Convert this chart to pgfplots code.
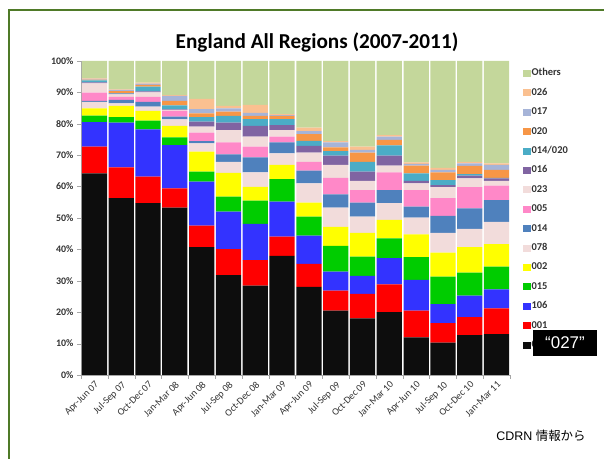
\documentclass[border=0pt]{standalone}
\usepackage{fontspec}
\setmainfont{Carlito}
\newfontfamily\arialf{Liberation Sans}
\newfontfamily\cjk{Noto Sans CJK JP}
\usepackage{pgfplots}
\usepackage{pgfplotstable}
\pgfplotsset{compat=1.18}

\definecolor{cOth}{HTML}{C4D79B}
\definecolor{cA026}{HTML}{FAC090}
\definecolor{cA017}{HTML}{A6B4D8}
\definecolor{cA020}{HTML}{F79646}
\definecolor{cA014b}{HTML}{4BACC6}
\definecolor{cA016}{HTML}{8064A2}
\definecolor{cA023}{HTML}{F2DCDB}
\definecolor{cA005}{HTML}{FF88C8}
\definecolor{cA014}{HTML}{4F81BD}
\definecolor{cA078}{HTML}{F2DCDB}
\definecolor{cA002}{HTML}{FFFF00}
\definecolor{cA015}{HTML}{00CC00}
\definecolor{cA106}{HTML}{3333FF}
\definecolor{cA001}{HTML}{FF0000}
\definecolor{cA027}{HTML}{0D0D0D}
\definecolor{frame}{HTML}{4F7A28}

% share of each ribotype per quarter (%)
\pgfplotstableread{
x a027 a001 a106 a015 a002 a078 a014 a005 a023 a016 a014b a020 a017 a026 oth
0  64.2 8.5 7.8  2.1 2.3 2.1 0.3 2.6 3.0 0.3 0.6 0.3 0.2 0.2 5.5
1  56.3 9.8 14.3 1.7 3.6 0.8 1.1 1.0 0.8 0.2 0.2 0.6 0.4 0.2 9.0
2  54.7 8.5 15.0 2.8 3.1 1.4 1.5 1.6 1.4 0.3 1.5 0.6 0.4 0.3 6.9
3  53.3 6.1 13.8 2.5 3.6 2.1 0.9 1.8 0.3 0.2 1.3 1.4 1.6 0.2 10.9
4  40.7 6.9 14.0 3.2 6.3 2.7 0.7 2.7 1.9 1.6 1.4 1.2 1.4 3.2 12.1
5  31.8 8.3 11.9 4.8 7.6 3.5 2.4 3.8 3.9 2.4 2.1 1.4 1.0 0.8 14.3
6  28.5 8.1 11.5 7.4 4.4 4.6 4.8 3.4 3.2 3.4 2.2 1.0 1.0 2.5 14.0
7  37.9 6.2 11.1 7.2 4.5 3.7 3.5 1.8 2.1 1.6 1.9 1.0 0.3 0.3 16.9
8  28.1 7.3 9.0  6.0 4.5 6.1 4.1 2.8 2.9 2.2 1.6 2.1 1.0 1.1 21.2
9  20.5 6.4 6.0  8.2 6.1 6.1 4.2 5.3 4.1 3.0 1.4 1.2 1.6 0.4 25.5
10 18.0 7.8 5.8  6.1 7.6 5.1 4.5 4.0 2.9 3.0 3.1 2.9 0.9 1.0 27.3
11 20.0 8.9 8.3  6.3 5.9 5.3 4.2 5.6 2.2 3.2 3.2 1.8 1.0 0.5 23.6
12 12.0 8.5 9.8  7.2 7.3 5.3 3.5 5.3 2.1 0.8 2.4 2.5 0.5 0.5 32.3
13 10.3 6.2 6.1  8.7 7.7 6.3 5.4 5.6 3.5 0.7 1.6 2.4 0.8 0.7 34.0
14 12.7 5.7 6.9  7.3 8.1 5.8 6.6 6.7 2.8 0.9 0.5 2.6 0.8 0.5 32.1
15 13.0 8.2 6.1  7.2 7.2 7.1 6.9 4.6 1.5 0.8 0.2 2.5 1.6 0.5 32.6
}\regions

\begin{document}
\begin{tikzpicture}
\path[use as bounding box] (0bp,0bp) rectangle (604bp,459bp);
\draw[frame, line width=2bp] (9bp,-2bp) -- (9bp,449bp) -- (606bp,449bp);
\node[font=\bfseries\fontsize{21.3}{25}\selectfont] at (317bp,417bp) {England All Regions (2007-2011)};
\begin{axis}[
    at={(81bp,84bp)}, anchor=south west,
    width=429bp, height=314bp, scale only axis,
    ybar stacked, bar width=0.94,
    xmin=-0.5, xmax=15.5, ymin=0, ymax=100,
    axis x line*=bottom, axis y line*=left,
    axis line style={draw=gray!70},
    tick style={draw=gray!70}, tick align=outside,
    major tick length=4bp, minor tick length=4bp,
    xtick={0,...,15}, major x tick style={draw=none},
    minor xtick={-0.5,0.5,...,15.5},
    xticklabels={Apr-Jun 07,Jul-Sep 07,Oct-Dec 07,Jan-Mar 08,Apr-Jun 08,Jul-Sep 08,Oct-Dec 08,Jan-Mar 09,Apr-Jun 09,Jul-Sep 09,Oct-Dec 09,Jan-Mar 10,Apr-Jun 10,Jul-Sep 10,Oct-Dec 10,Jan-Mar 11},
    x tick label style={rotate=45, anchor=north east, font=\fontsize{10}{11}\selectfont, inner sep=1bp, text=black!80},
    ytick={0,10,...,100},
    yticklabel={\pgfmathprintnumber{\tick}\%},
    y tick label style={font=\bfseries\fontsize{10}{11}\selectfont, text=black!80},
    /pgf/number format/assume math mode=true,
    legend image code/.code={\fill[#1] (0bp,-3.5bp) rectangle (7.5bp,3.5bp);},
    reverse legend, legend cell align=left,
    legend style={at={(1.03,0.98)}, anchor=north west, draw=none, fill=none,
        font=\bfseries\fontsize{10.5}{12}\selectfont, row sep=7.4bp, inner sep=0pt,
        nodes={inner sep=1bp, text height=7.5bp, text depth=2.5bp, text=black!80}},
]
\addplot[fill=cA027, draw=none] table[x=x, y=a027] {\regions};
\addplot[fill=cA001, draw=none] table[x=x, y=a001] {\regions};
\addplot[fill=cA106, draw=none] table[x=x, y=a106] {\regions};
\addplot[fill=cA015, draw=none] table[x=x, y=a015] {\regions};
\addplot[fill=cA002, draw=none] table[x=x, y=a002] {\regions};
\addplot[fill=cA078, draw=none] table[x=x, y=a078] {\regions};
\addplot[fill=cA014, draw=none] table[x=x, y=a014] {\regions};
\addplot[fill=cA005, draw=none] table[x=x, y=a005] {\regions};
\addplot[fill=cA023, draw=none] table[x=x, y=a023] {\regions};
\addplot[fill=cA016, draw=none] table[x=x, y=a016] {\regions};
\addplot[fill=cA014b, draw=none] table[x=x, y=a014b] {\regions};
\addplot[fill=cA020, draw=none] table[x=x, y=a020] {\regions};
\addplot[fill=cA017, draw=none] table[x=x, y=a017] {\regions};
\addplot[fill=cA026, draw=none] table[x=x, y=a026] {\regions};
\addplot[fill=cOth, draw=none] table[x=x, y=oth] {\regions};
\legend{027,001,106,015,002,078,014,005,023,016,014/020,020,017,026,Others}
\end{axis}
\node[fill=black, text=white, minimum width=64bp, minimum height=26bp, inner sep=0pt,
      font=\arialf\fontsize{17}{19}\selectfont] at (565bp,116bp) {“027”};
\node[font=\fontsize{12.5}{14}\selectfont] at (541bp,23bp) {\arialf CDRN \cjk 情報から};
\end{tikzpicture}
\end{document}
